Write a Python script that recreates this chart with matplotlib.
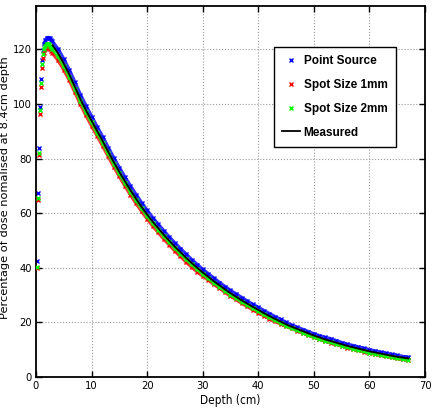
import matplotlib
matplotlib.use("Agg")
import matplotlib.pyplot as plt
from matplotlib.lines import Line2D

# depths (cm) of the simulated points: fine steps in the build-up region, then 1 cm
sim_depth = [0.1, 0.3, 0.5, 0.7, 0.9, 1.1, 1.3, 1.5, 1.7, 1.9, 2.1, 2.3, 2.5, 2.7, 2.9,
             4, 5, 6, 7, 8, 9, 10, 11, 12, 13, 14, 15, 16, 17, 18, 19, 20,
             21, 22, 23, 24, 25, 26, 27, 28, 29, 30, 31, 32, 33, 34, 35, 36, 37, 38, 39, 40,
             41, 42, 43, 44, 45, 46, 47, 48, 49, 50, 51, 52, 53, 54, 55, 56, 57, 58, 59, 60,
             61, 62, 63, 64, 65, 66, 67]

point_source = [42.5, 67.4, 83.9, 99.0, 109.0, 116.0, 119.8, 122.0, 123.3, 124.0, 124.3, 124.3, 124.0, 123.6, 123.0,
                120.0, 116.4, 112.4, 107.9, 103.3, 99.3, 95.4, 91.6, 87.9, 84.0, 80.2, 76.6, 73.2, 69.9, 66.8, 63.8, 61.0,
                58.3, 55.9, 53.5, 51.2, 49.0, 47.0, 45.0, 43.0, 41.2, 39.4, 37.8, 36.2, 34.6, 33.1, 31.7, 30.4, 29.1, 27.8, 26.6, 25.5,
                24.3, 23.2, 22.1, 21.1, 20.0, 19.0, 18.2, 17.4, 16.6, 15.8, 15.1, 14.5, 14.0, 13.3, 12.6, 12.0, 11.5, 11.0, 10.5, 10.0,
                9.5, 9.1, 8.7, 8.3, 7.9, 7.5, 7.2]

spot_1mm = [40.0, 65.0, 81.5, 96.3, 106.3, 113.3, 116.8, 118.8, 120.0, 120.5, 120.6, 120.4, 120.0, 119.5, 118.8,
            116.0, 112.6, 108.8, 104.4, 99.9, 95.9, 92.1, 88.4, 84.7, 80.9, 77.1, 73.5, 70.1, 66.8, 63.7, 60.8, 58.0,
            55.4, 53.0, 50.6, 48.4, 46.2, 44.2, 42.2, 40.3, 38.6, 37.0, 35.6, 34.0, 32.6, 31.1, 29.7, 28.4, 27.1, 25.9, 24.7, 23.6,
            22.5, 21.4, 20.4, 19.5, 18.6, 17.8, 17.0, 16.2, 15.4, 14.6, 13.9, 13.2, 12.6, 12.0, 11.4, 10.8, 10.3, 9.8, 9.3, 8.8,
            8.4, 8.0, 7.6, 7.2, 6.8, 6.5, 6.2]

spot_2mm = [40.3, 65.6, 82.0, 97.8, 107.6, 114.8, 118.2, 120.2, 121.4, 121.9, 122.0, 121.8, 121.4, 120.9, 120.2,
            117.5, 113.9, 110.0, 105.6, 101.1, 97.1, 93.3, 89.5, 85.8, 82.0, 78.2, 74.6, 71.2, 67.9, 64.8, 61.8, 59.0,
            56.4, 54.0, 51.6, 49.4, 47.2, 45.2, 43.2, 41.3, 39.5, 37.8, 36.2, 34.6, 33.1, 31.6, 30.2, 28.9, 27.6, 26.4, 25.2, 24.1,
            22.9, 21.8, 20.8, 19.8, 18.8, 17.9, 17.1, 16.3, 15.5, 14.7, 14.0, 13.3, 12.7, 12.1, 11.5, 10.9, 10.4, 9.9, 9.4, 8.9,
            8.5, 8.1, 7.7, 7.3, 6.9, 6.6, 6.3]

meas_depth = list(range(3, 68))
measured = [121.5, 118.5, 114.8, 110.8, 106.3, 101.7, 97.7, 93.9, 90.1, 86.4,
            82.5, 78.7, 75.1, 71.7, 68.4, 65.3, 62.3, 59.5, 56.9, 54.5,
            52.1, 49.9, 47.7, 45.7, 43.7, 41.8, 40.0, 38.3, 36.7, 35.1,
            33.6, 32.1, 30.7, 29.4, 28.1, 26.9, 25.7, 24.6, 23.4, 22.3,
            21.3, 20.3, 19.3, 18.4, 17.6, 16.8, 16.0, 15.2, 14.5, 13.8,
            13.2, 12.6, 12.0, 11.4, 10.9, 10.4, 9.9, 9.4, 9.0, 8.6,
            8.2, 7.8, 7.4, 7.1, 6.8]

plt.rcParams['font.family'] = ['DejaVu Sans']
plt.rcParams['font.stretch'] = 'condensed'

fig = plt.figure(figsize=(4.32, 4.11), dpi=100)
ax = fig.add_axes([0.0833, 0.0827, 0.9005, 0.9034])

# band start: where the simulated points merge into a continuous band
band = 7
sims = [(point_source, (0, 0, 1), 2),
        (spot_1mm, (1, 0, 0), 3),
        (spot_2mm, (0, 1, 0), 4)]
for vals, col, z in sims:
    ax.plot(sim_depth[band:], vals[band:], '-', color=col, lw=2.6, alpha=0.8, zorder=z)
    ax.plot(sim_depth, vals, 'x', color=col, ms=3.2, mew=1.0, zorder=z)

ax.plot(meas_depth, measured, '-', color='black', lw=1.3, zorder=5)

ax.set_xlim(0, 70)
ax.set_ylim(0, 136)
ax.set_xticks(range(0, 71, 10))
ax.set_yticks(range(0, 121, 20))
ax.grid(True, linestyle=':', color='#9a9a9a', linewidth=0.8)
ax.tick_params(direction='in', length=4, width=1.0, top=True, right=True, labelsize=8, pad=3)
for s in ax.spines.values():
    s.set_linewidth(1.3)

ax.set_xlabel('Depth (cm)', fontsize=8.5, labelpad=2)
ax.set_ylabel('Percentage of dose nomalised at 8.4cm depth', fontsize=8.2,
              fontstretch='normal')
ax.yaxis.set_label_coords(-0.068, 0.51)

handles = [Line2D([], [], ls='none', marker='x', color=(0, 0, 1), ms=3, mew=1.0),
           Line2D([], [], ls='none', marker='x', color=(1, 0, 0), ms=3, mew=1.0),
           Line2D([], [], ls='none', marker='x', color=(0, 1, 0), ms=3, mew=1.0),
           Line2D([], [], color='black', lw=1.3)]
leg = ax.legend(handles, ['Point Source', 'Spot Size 1mm', 'Spot Size 2mm', 'Measured'],
                loc='upper right', bbox_to_anchor=(0.94, 0.905), fancybox=False,
                framealpha=1, edgecolor='black', handlelength=1.5, handletextpad=0.3,
                labelspacing=1.0, borderpad=0.7,
                prop={'family': ['Liberation Sans', 'DejaVu Sans'], 'weight': 'bold', 'size': 8.5})
leg.get_frame().set_linewidth(1.0)

fig.savefig('out.png', dpi=100)
